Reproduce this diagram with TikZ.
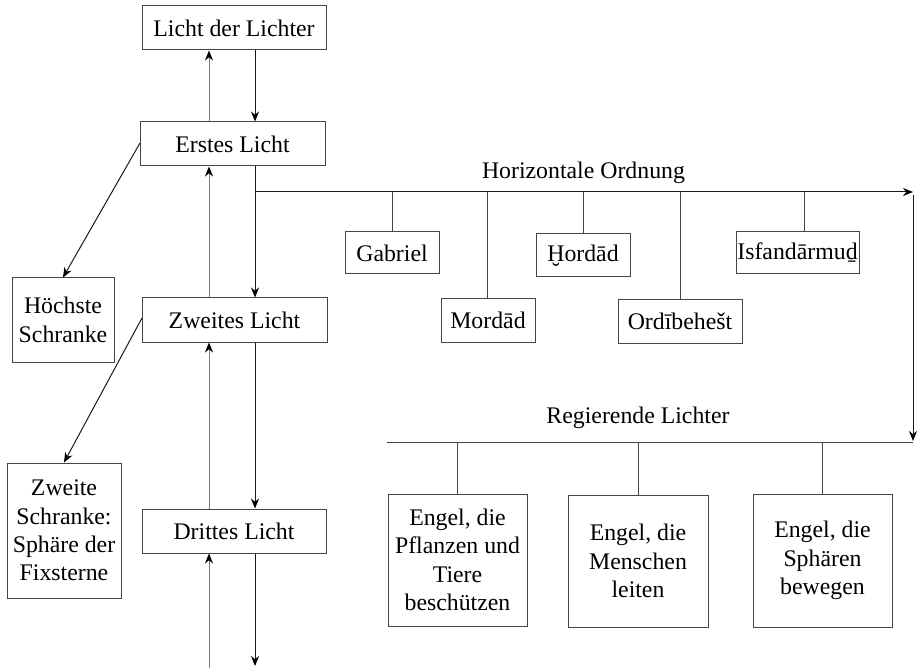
\documentclass[tikz,border=0pt]{standalone}
\usepackage{fontspec}
\setmainfont{Liberation Serif}
\usetikzlibrary{arrows.meta}
\definecolor{boxline}{HTML}{444444}
\definecolor{upline}{HTML}{7A7A7A}
\definecolor{downline}{HTML}{1A1A1A}
\tikzset{
  box/.style={draw=boxline, line width=1pt, inner sep=0pt, align=center,
    font=\fontsize{23.8}{28.3}\selectfont, text=black},
  lbl/.style={inner sep=0pt, font=\fontsize{23.8}{28.3}\selectfont, text=black},
  tip/.style={-{Stealth[length=10pt,width=8pt,color=black]}},
  uparr/.style={tip, draw=upline, line width=1pt},
  downarr/.style={tip, draw=downline, line width=1pt},
  stem/.style={draw=boxline, line width=1pt},
}
\begin{document}
\begin{tikzpicture}[x=1pt,y=-1pt]
\useasboundingbox (0,0) rectangle (921,668);
% left column
\node[box, minimum width=184pt, minimum height=44pt] (LL) at (234,28) {Licht der Lichter};
\node[box, minimum width=185pt, minimum height=44pt] (E1) at (232.5,144) {Erstes Licht};
\node[box, minimum width=185pt, minimum height=44pt] (E2) at (234.5,320) {Zweites Licht};
\node[box, minimum width=184pt, minimum height=44pt] (E3) at (234,531) {Drittes Licht};
\node[box, minimum width=102pt, minimum height=84pt] (HS) at (63,320) {Höchste\\Schranke};
\node[box, minimum width=114pt, minimum height=135pt] (ZS) at (64,530.5) {Zweite\\Schranke:\\Sphäre der\\Fixsterne};
% x positions of the vertical arrows
\coordinate (upx) at (209,0);
\coordinate (dnx) at (255,0);
\coordinate (bottomend) at (0,666);
\coordinate (bottomstart) at (0,668);
\draw[uparr] (E1.north -| upx) -- (LL.south -| upx);
\draw[downarr] (LL.south -| dnx) -- (E1.north -| dnx);
\draw[uparr] (E2.north -| upx) -- (E1.south -| upx);
\draw[downarr] (E1.south -| dnx) -- (E2.north -| dnx);
\draw[uparr] (E3.north -| upx) -- (E2.south -| upx);
\draw[downarr] (E2.south -| dnx) -- (E3.north -| dnx);
\draw[uparr] (bottomstart -| upx) -- (E3.south -| upx);
\draw[downarr] (E3.south -| dnx) -- (bottomend -| dnx);
% diagonal arrows
\coordinate (e1l) at (140,143);
\coordinate (e2l) at (142,318);
\draw[downarr] (e1l) -- (HS.north);
\draw[downarr] (e2l) -- (ZS.north);
% horizontal order
\coordinate (hstart) at (255,192);
\coordinate (hend) at (913,192);
\coordinate (vtop) at (913,195);
\coordinate (vend) at (913,441);
\draw[downarr] (hstart) -- (hend);
\draw[downarr] (vtop) -- (vend);
\node[lbl] (HO) at (583.5,173) {Horizontale Ordnung};
\node[box, minimum width=94pt, minimum height=42pt] (G) at (392,253) {Gabriel};
\node[box, minimum width=94pt, minimum height=43pt] (M) at (488,320.5) {Mordād};
\node[box, minimum width=94pt, minimum height=43pt] (H) at (583,255.5) {Ḫordād};
\node[box, minimum width=124pt, minimum height=43pt] (O) at (680,321.5) {Ordībehešt};
\node[box, minimum width=123pt, minimum height=42pt] (I) at (797.5,253) {Isfandārmuḏ};
\coordinate (istem) at (804,0);
\draw[stem] (G.north) -- (G.north |- hstart);
\draw[stem] (M.north -| 487,0) -- (hstart -| 487,0);
\draw[stem] (H.north) -- (H.north |- hstart);
\draw[stem] (O.north) -- (O.north |- hstart);
\draw[stem] (I.north -| istem) -- (hstart -| istem);
% governing lights
\coordinate (rstart) at (387,442);
\coordinate (rend) at (913,442);
\draw[stem] (rstart) -- (rend);
\node[lbl] (RL) at (638,418) {Regierende Lichter};
\node[box, minimum width=139pt, minimum height=132pt] (R1) at (457.5,560) {Engel, die\\Pflanzen und\\Tiere\\beschützen};
\node[box, minimum width=140pt, minimum height=132pt] (R2) at (638,561) {Engel, die\\Menschen\\leiten};
\node[box, minimum width=139pt, minimum height=133pt] (R3) at (822.5,560.5) {Engel, die\\Sphären\\bewegen};
\draw[stem] (R1.north) -- (R1.north |- rstart);
\draw[stem] (R2.north) -- (R2.north |- rstart);
\draw[stem] (R3.north) -- (R3.north |- rstart);
\end{tikzpicture}
\end{document}
